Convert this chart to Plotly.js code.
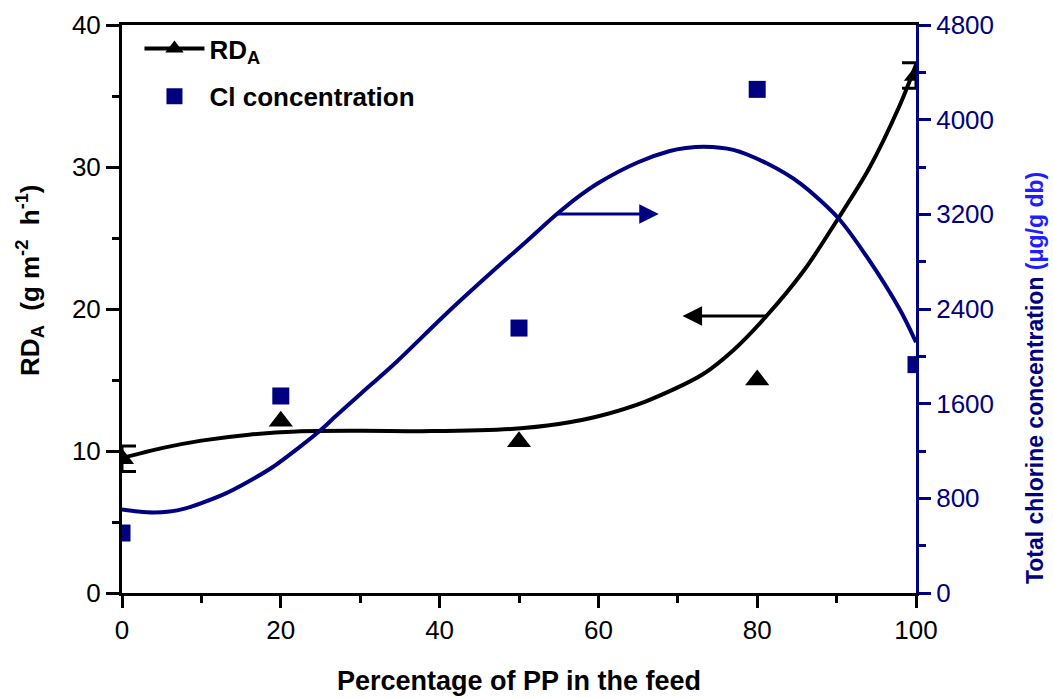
<!DOCTYPE html>
<html>
<head>
<meta charset="utf-8">
<script src="https://cdn.plot.ly/plotly-3.0.1.min.js"></script>
<style>html,body{margin:0;padding:0;background:#fff;}#chart{width:1053px;height:698px;}</style>
</head>
<body>
<div id="chart"></div>
<script>
// Measured data points
const ppPercent = [0, 20, 50, 80, 100];
const rdA = [9.45, 12.1, 10.65, 15.0, 36.45];
const rdAError = [0.9, null, null, null, 0.9];
const clConc = [507, 1665, 2239, 4256, 1930];

// Fitted curves
const rdFitX = [0, 5, 10, 16, 22, 30, 39, 49, 55, 60, 66, 73, 77, 81, 86, 90, 94, 98, 100];
const rdFitY = [9.5, 10.2, 10.73, 11.15, 11.38, 11.42, 11.4, 11.55, 11.9, 12.45, 13.5, 15.35, 17.1, 19.4, 22.8, 26.2, 29.8, 34.4, 37.2];
const clFitX = [0, 2, 4, 6, 8, 10, 13, 16, 19, 22.4, 25, 27, 30, 34.6, 40.9, 47.2, 51, 54.7, 57.7, 60, 65, 69, 71, 73.3, 77, 81.2, 85.4, 90.2, 93.8, 98, 100];
const clFitY = [705, 688, 680, 688, 715, 760, 840, 945, 1065, 1235, 1375, 1500, 1680, 1955, 2364, 2750, 2975, 3198, 3360, 3465, 3640, 3735, 3760, 3772, 3745, 3631, 3462, 3169, 2842, 2391, 2120];

// Arrow annotations (data coordinates)
const leftArrow = {fromX: 81.4, toX: 70.6, y: 19.5};
const rightArrow = {fromX: 54.6, toX: 67.6, y: 3203};

const NAVY = '#000080';
const FONT = 'Liberation Sans, Arial, sans-serif';

// points that carry error bars
const errIdx = rdAError.map((e, i) => e == null ? -1 : i).filter(i => i >= 0);

const traces = [
  {x: [null], y: [null], mode: 'lines+markers', name: 'RD<sub>A</sub>', legendgroup: 'a',
   line: {color: 'black', width: 4},
   marker: {symbol: 'triangle-up', size: 21, color: 'black'}},
  {x: ppPercent, y: clConc, yaxis: 'y2', mode: 'markers', name: 'Cl concentration', legendgroup: 'b',
   marker: {symbol: 'square', size: 17, color: NAVY}},
  {x: rdFitX, y: rdFitY, mode: 'lines', showlegend: false,
   line: {color: 'black', width: 4, shape: 'spline', smoothing: 0.8}},
  {x: clFitX, y: clFitY, yaxis: 'y2', mode: 'lines', showlegend: false,
   line: {color: NAVY, width: 4, shape: 'spline', smoothing: 0.8}},
  {x: errIdx.map(i => ppPercent[i]), y: errIdx.map(i => rdA[i]), mode: 'markers', showlegend: false,
   marker: {size: 1, color: 'rgba(0,0,0,0)'},
   error_y: {type: 'data', array: errIdx.map(i => rdAError[i]), visible: true, color: 'black', thickness: 3, width: 14}},
  {x: ppPercent, y: rdA, mode: 'markers', showlegend: false,
   marker: {symbol: 'triangle-up', size: 21, color: 'black'}}
];

const layout = {
  width: 1053, height: 698,
  margin: {l: 122, r: 137, t: 25, b: 105},
  paper_bgcolor: '#fff', plot_bgcolor: '#fff',
  font: {family: FONT, size: 26, color: 'black'},
  showlegend: true,
  legend: {x: 0.022, y: 1.0, xanchor: 'left', yanchor: 'top', bgcolor: 'rgba(0,0,0,0)',
           font: {family: FONT, size: 26, color: 'black', weight: 'bold'}, itemwidth: 60, tracegroupgap: 11},
  xaxis: {range: [0, 100], tickvals: [0, 20, 40, 60, 80, 100], ticks: 'outside', ticklen: 12, tickwidth: 3,
          tickcolor: 'black', showline: true, linewidth: 3, linecolor: 'black', mirror: true,
          showgrid: false, zeroline: false,
          minor: {tickvals: [10, 30, 50, 70, 90], ticks: 'outside', ticklen: 7, tickwidth: 3, tickcolor: 'black'},
          tickfont: {size: 26, color: 'black'},
          title: {text: '<b>Percentage of PP in the feed</b>', font: {size: 27, color: 'black'}, standoff: 27}},
  yaxis: {range: [0, 40], tickvals: [0, 10, 20, 30, 40], ticks: 'outside', ticklen: 13, tickwidth: 3,
          tickcolor: 'black', showline: true, linewidth: 3, linecolor: 'black',
          showgrid: false, zeroline: false,
          minor: {tickvals: [5, 15, 25, 35], ticks: 'outside', ticklen: 7, tickwidth: 3, tickcolor: 'black'},
          tickfont: {size: 26, color: 'black'}},
  yaxis2: {overlaying: 'y', side: 'right', range: [0, 4800], tickvals: [0, 800, 1600, 2400, 3200, 4000, 4800],
           ticks: 'outside', ticklen: 12, tickwidth: 3, tickcolor: NAVY, showline: true, linewidth: 3, linecolor: NAVY,
           showgrid: false, zeroline: false,
           minor: {tickvals: [400, 1200, 2000, 2800, 3600, 4400], ticks: 'outside', ticklen: 7, tickwidth: 3, tickcolor: NAVY},
           tickfont: {size: 26, color: NAVY}},
  annotations: [
    {x: leftArrow.toX, y: leftArrow.y, ax: leftArrow.fromX, ay: leftArrow.y, xref: 'x', yref: 'y', axref: 'x', ayref: 'y',
     text: '', showarrow: true, arrowhead: 2, arrowsize: 1.3, arrowwidth: 3, arrowcolor: 'black'},
    {x: rightArrow.toX, y: rightArrow.y, ax: rightArrow.fromX, ay: rightArrow.y, xref: 'x', yref: 'y2', axref: 'x', ayref: 'y2',
     text: '', showarrow: true, arrowhead: 2, arrowsize: 1.3, arrowwidth: 3, arrowcolor: NAVY},
    {xref: 'paper', yref: 'paper', x: -0.116, y: 0.551, xanchor: 'center', yanchor: 'middle', textangle: -90, showarrow: false,
     text: '<b>RD<sub>A</sub>&nbsp;&nbsp;(g&nbsp;m<sup>-2</sup>&nbsp;&nbsp;h<sup>-1</sup>)</b>', font: {size: 26, color: 'black'}},
    {xref: 'paper', yref: 'paper', x: 1.15, y: 0.3785, xanchor: 'center', yanchor: 'middle', textangle: -90, showarrow: false,
     text: '<b>Total chlorine concentration <span style="color:#1e1eff">(μg/g db)</span></b>', font: {size: 23, color: NAVY}}
  ]
};

Plotly.newPlot('chart', traces, layout, {displayModeBar: false, staticPlot: true});
</script>
</body>
</html>
